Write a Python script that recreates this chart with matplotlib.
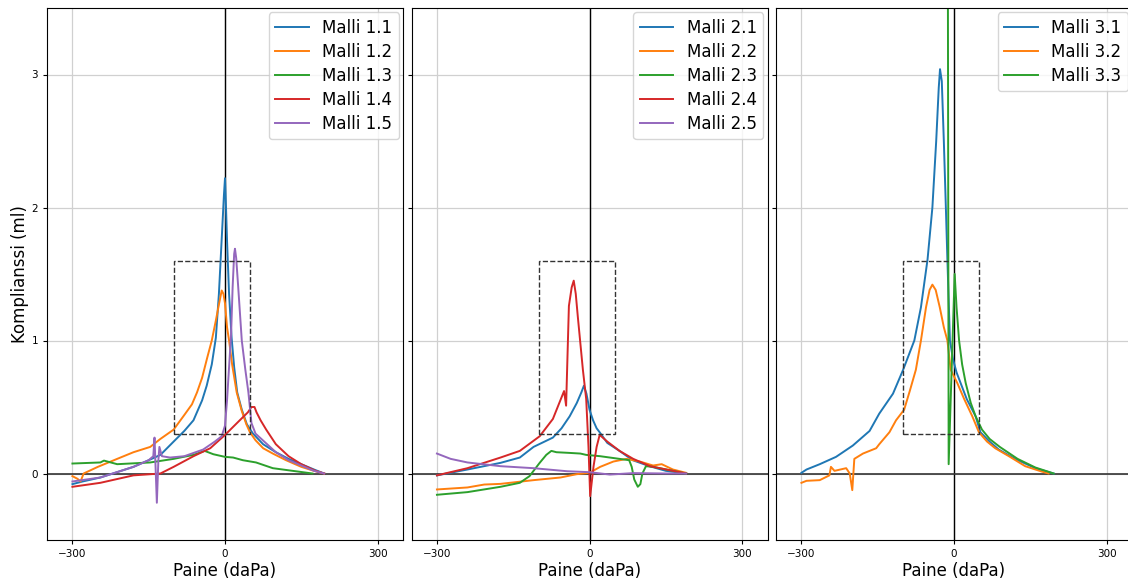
# Tympanometria: kompliansi paineen funktiona, kolme mallisarjaa
import numpy as np
import matplotlib.pyplot as plt
from matplotlib.patches import Rectangle

# --- Malli 1.x ---
m11_x = [-300, -280, -245, -180, -150, -127, -101, -80, -62, -45, -36, -26, -18, -12, -8, -4, -2, 0, 2, 4, 8, 13, 18, 24, 33, 43, 55, 75, 100, 125, 150, 175, 195]
m11_y = [-0.08, -0.06, -0.03, 0.05, 0.1, 0.14, 0.24, 0.32, 0.4, 0.55, 0.66, 0.82, 1.02, 1.35, 1.65, 1.95, 2.1, 2.22, 2.0, 1.75, 1.35, 1.02, 0.8, 0.61, 0.48, 0.37, 0.3, 0.22, 0.16, 0.11, 0.07, 0.03, 0.0]
m12_x = [-300, -290, -284, -278, -250, -212, -180, -147, -127, -101, -80, -65, -55, -45, -35, -26, -18, -12, -6.5, -3, 0, 4, 8, 14, 23, 33, 42, 49, 60, 75, 94, 120, 150, 175, 195]
m12_y = [-0.02, -0.04, -0.06, 0.0, 0.05, 0.11, 0.16, 0.2, 0.26, 0.33, 0.44, 0.52, 0.61, 0.72, 0.87, 1.0, 1.15, 1.27, 1.376, 1.35, 1.28, 1.1, 1.0, 0.82, 0.61, 0.47, 0.37, 0.31, 0.25, 0.19, 0.15, 0.1, 0.05, 0.02, 0.0]
m13_x = [-300, -245, -238, -212, -147, -101, -62, -40, -23, 0, 16, 35, 61, 94, 133, 172]
m13_y = [0.075, 0.083, 0.097, 0.07, 0.083, 0.11, 0.14, 0.17, 0.145, 0.125, 0.12, 0.10, 0.083, 0.04, 0.02, 0.0]
m14_x = [-300, -245, -180, -127, -101, -62, -29, 0, 29, 45, 52, 58, 62, 70, 81, 100, 125, 150, 178, 195]
m14_y = [-0.1, -0.07, -0.014, 0.0, 0.05, 0.13, 0.19, 0.29, 0.4, 0.46, 0.5, 0.5, 0.46, 0.4, 0.33, 0.22, 0.13, 0.07, 0.02, 0.0]
m15_x = [-300, -245, -180, -150, -141, -138.6, -134, -131, -129, -124, -108, -80, -43, -20, -6.5, 0, 4, 8, 12, 15, 18, 19.6, 22, 26, 33, 40, 46, 52, 60, 80, 100, 125, 150, 175, 195]
m15_y = [-0.06, -0.03, 0.05, 0.1, 0.13, 0.27, -0.22, 0.1, 0.2, 0.13, 0.12, 0.13, 0.18, 0.24, 0.28, 0.36, 0.55, 0.8, 1.05, 1.4, 1.65, 1.69, 1.62, 1.4, 1.0, 0.78, 0.61, 0.38, 0.3, 0.23, 0.16, 0.1, 0.06, 0.02, 0.0]

# --- Malli 2.x ---
m21_x = [-300, -240, -175, -137, -110, -72, -55, -39, -25, -16, -11, -6, 0, 7, 14, 20, 35, 59, 85, 118, 150, 190]
m21_y = [-0.014, 0.03, 0.08, 0.12, 0.2, 0.27, 0.34, 0.43, 0.53, 0.61, 0.66, 0.6, 0.48, 0.4, 0.34, 0.31, 0.23, 0.17, 0.1, 0.055, 0.02, 0.0]
m22_x = [-300, -240, -207, -175, -110, -57, -25, 0, 21, 47, 73, 99, 125, 142, 164, 190]
m22_y = [-0.12, -0.105, -0.083, -0.078, -0.05, -0.03, -0.005, 0.005, 0.05, 0.09, 0.11, 0.09, 0.06, 0.07, 0.03, 0.005]
m23_x = [-300, -240, -175, -137, -118, -98, -85, -75, -65, -40, -18, -6.5, 21, 59, 78, 83, 88, 95, 100, 104, 111, 125, 151, 190]
m23_y = [-0.16, -0.14, -0.1, -0.07, -0.02, 0.08, 0.14, 0.17, 0.16, 0.155, 0.15, 0.14, 0.13, 0.11, 0.1, 0.05, -0.045, -0.1, -0.08, 0.0, 0.055, 0.05, 0.03, 0.0]
m24_x = [-300, -240, -175, -137, -98, -72, -50, -46, -40.5, -35, -31, -27, -23, -13, -6.5, -2, 1.3, 8, 14, 20, 35, 59, 86, 119, 151, 190]
m24_y = [-0.014, 0.04, 0.12, 0.17, 0.28, 0.41, 0.62, 0.51, 1.26, 1.4, 1.45, 1.35, 1.18, 0.78, 0.56, 0.2, -0.17, 0.055, 0.2, 0.29, 0.24, 0.17, 0.11, 0.055, 0.03, 0.0]
m25_x = [-300, -273, -240, -175, -110, -44, 0, 40, 86, 151, 190]
m25_y = [0.15, 0.11, 0.083, 0.055, 0.04, 0.017, 0.01, -0.008, 0.003, 0.0, 0.0]

# --- Malli 3.x ---
m31_x = [-300, -290, -264, -232, -199, -166, -147, -120, -100, -78, -65, -52, -42.5, -35, -30, -27.5, -24, -20, -16, -13, -8, -2, 5, 13, 25, 42.5, 52, 70, 88, 120, 160, 196]
m31_y = [0.005, 0.03, 0.07, 0.125, 0.21, 0.32, 0.45, 0.6, 0.78, 1.0, 1.25, 1.61, 2.0, 2.5, 2.9, 3.04, 2.95, 2.5, 2.0, 1.61, 1.0, 0.86, 0.76, 0.68, 0.56, 0.43, 0.31, 0.24, 0.18, 0.11, 0.04, 0.0]
m32_x = [-300, -290, -264, -245, -242, -235, -212, -205, -200, -196, -179, -153, -147, -127, -114, -98, -87, -75, -65, -55, -48, -42.5, -36, -28, -20, -13, -6.5, 6.5, 20, 36, 49, 65, 81, 108, 140, 173, 186]
m32_y = [-0.07, -0.055, -0.05, -0.014, 0.05, 0.02, 0.04, 0.0, -0.125, 0.11, 0.15, 0.19, 0.22, 0.31, 0.4, 0.48, 0.62, 0.78, 1.0, 1.25, 1.38, 1.42, 1.38, 1.25, 1.1, 1.0, 0.78, 0.68, 0.56, 0.43, 0.31, 0.24, 0.19, 0.13, 0.055, 0.014, 0.0]
m33_x = [-13, -10.5, 1.3, 5, 10, 16, 23, 33, 42.5, 55, 70, 90, 125, 160, 196]
m33_y = [6.0, 0.07, 1.5, 1.25, 1.0, 0.82, 0.68, 0.53, 0.43, 0.33, 0.26, 0.2, 0.11, 0.045, 0.0]

paneelit = [
    [("Malli 1.1", m11_x, m11_y), ("Malli 1.2", m12_x, m12_y), ("Malli 1.3", m13_x, m13_y),
     ("Malli 1.4", m14_x, m14_y), ("Malli 1.5", m15_x, m15_y)],
    [("Malli 2.1", m21_x, m21_y), ("Malli 2.2", m22_x, m22_y), ("Malli 2.3", m23_x, m23_y),
     ("Malli 2.4", m24_x, m24_y), ("Malli 2.5", m25_x, m25_y)],
    [("Malli 3.1", m31_x, m31_y), ("Malli 3.2", m32_x, m32_y), ("Malli 3.3", m33_x, m33_y)],
]

fig = plt.figure(figsize=(11.28, 5.81), dpi=100)
vasen = 47 / 1128
leveys = 356 / 1128
vali = 8.5 / 1128
ala = 41 / 581
korkeus = 532 / 581

akselit = []
for i, sarjat in enumerate(paneelit):
    if i == 0:
        ax = fig.add_axes([vasen + i * (leveys + vali), ala, leveys, korkeus])
    else:
        ax = fig.add_axes([vasen + i * (leveys + vali), ala, leveys, korkeus], sharey=akselit[0])
    akselit.append(ax)

    ax.grid(True, color="#d0d0d0", linewidth=0.9)
    ax.set_axisbelow(True)
    for nimi, x, y in sarjat:
        ax.plot(x, y, linewidth=1.4, label=nimi)

    # nollakohdat
    ax.axvline(0, color="black", linewidth=1.0, zorder=1.5)
    ax.axhline(0, color="#333333", linewidth=1.2, zorder=1.5)

    # katkoviivalaatikko
    ax.add_patch(Rectangle((-100, 0.3), 150, 1.3, fill=False, linestyle="--",
                           edgecolor="#333333", linewidth=1.0, zorder=3))

    ax.set_xlim(-350, 350)
    ax.set_ylim(-0.5, 3.5)
    ax.set_xticks([-300, 0, 300])
    ax.set_yticks([0, 1, 2, 3])
    ax.tick_params(labelsize=7.5, length=3)
    ax.set_xlabel("Paine (daPa)", fontsize=12, labelpad=2)
    if i > 0:
        ax.tick_params(labelleft=False)
    ax.legend(loc="upper right", fontsize=12, borderaxespad=0.25, labelspacing=0.36)

akselit[0].set_ylabel("Komplianssi (ml)", fontsize=12, labelpad=2)

fig.savefig("out.png", dpi=100)
